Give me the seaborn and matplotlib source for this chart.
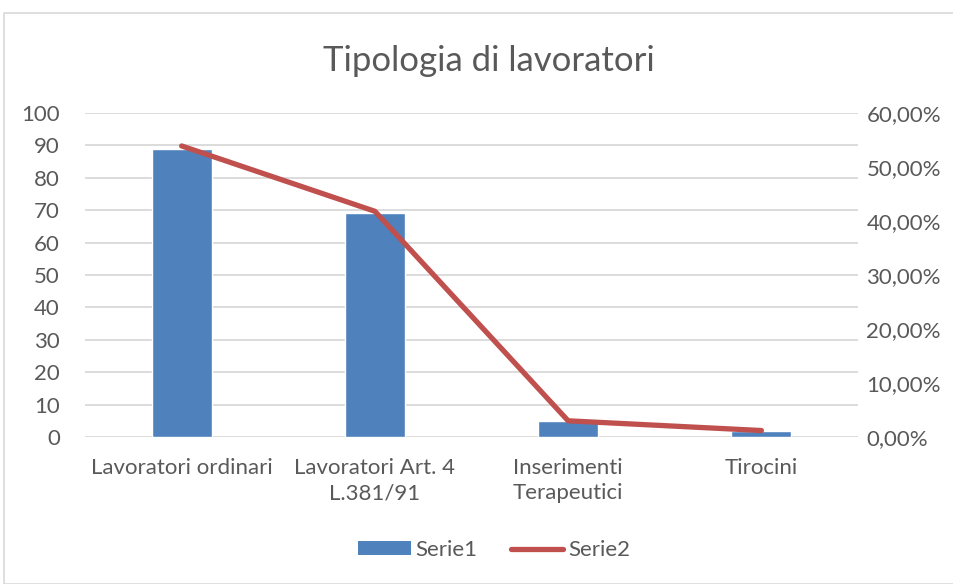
import matplotlib
matplotlib.use("Agg")
import matplotlib.pyplot as plt
from matplotlib.patches import Rectangle, Patch
from matplotlib.lines import Line2D
from matplotlib.ticker import FuncFormatter, MultipleLocator
import numpy as np
import pandas as pd
import seaborn as sns

categories = ["Lavoratori ordinari", "Lavoratori Art. 4\nL.381/91", "Inserimenti\nTerapeutici", "Tirocini"]
serie1 = [89, 69, 5, 2]
serie2 = [0.539, 0.418, 0.030, 0.012]
title = "Tipologia di lavoratori"

sns.set_theme(style="white")
plt.rcParams['font.family'] = ['Lato', 'DejaVu Sans']

TXT = "#595959"
BLUE = "#4f81bd"
RED = "#c0504d"
GRID = "#d9d9d9"
FS = 16

fig = plt.figure(figsize=(9.54, 5.84), dpi=100)
ax = fig.add_axes([0.0891, 0.2517, 0.8103, 0.5548])

df = pd.DataFrame({"cat": categories, "Serie1": serie1, "Serie2": serie2, "pos": np.arange(len(categories))})
sns.barplot(data=df, x="cat", y="Serie1", ax=ax, color=BLUE, width=0.31, saturation=1, zorder=3)
ax.set_ylim(0, 100)
ax.yaxis.set_major_locator(MultipleLocator(10))
ax.set_xlim(-0.5, len(categories) - 0.5)
ax.grid(axis="y", color=GRID, linewidth=1.3, zorder=0)
ax.set_axisbelow(True)
for s in ax.spines.values():
    s.set_visible(False)
ax.set_xlabel("")
ax.set_ylabel("")
ax.tick_params(axis="x", length=0, labelsize=FS, labelcolor=TXT, pad=15)
ax.tick_params(axis="y", length=0, labelsize=FS, labelcolor=TXT, pad=18)
for lbl in ax.get_xticklabels():
    lbl.set_linespacing(1.35)

ax2 = ax.twinx()
sns.lineplot(data=df, x="pos", y="Serie2", ax=ax2, color=RED, linewidth=3.8, zorder=4)
ax2.set_ylim(0, 0.6)
ax2.set_xlim(-0.5, len(categories) - 0.5)
ax2.yaxis.set_major_locator(MultipleLocator(0.1))
ax2.yaxis.set_major_formatter(FuncFormatter(lambda v, p: f"{v*100:.2f}%".replace(".", ",")))
ax2.tick_params(axis="y", length=0, labelsize=FS, labelcolor=TXT, pad=6)
ax2.set_ylabel("")
ax2.set_xlabel("")
for s in ax2.spines.values():
    s.set_visible(False)
ax2.grid(False)

fig.text(0.512, 0.895, title, ha="center", va="center", fontsize=25, color=TXT)

handles = [Patch(facecolor=BLUE, edgecolor="none"), Line2D([0], [0], color=RED, linewidth=3.8, solid_capstyle="round")]
fig.legend(handles, ["Serie1", "Serie2"], loc="center", bbox_to_anchor=(0.518, 0.058), ncol=2, frameon=False,
           fontsize=FS, labelcolor=TXT, handlelength=2.35, handletextpad=0.22, columnspacing=1.5, handleheight=0.6)

fig.patches.append(Rectangle((4/954, 0), 1, 1 - 13/584, transform=fig.transFigure, fill=False,
                             edgecolor=GRID, linewidth=1.2))

fig.savefig("out.png", dpi=100)
